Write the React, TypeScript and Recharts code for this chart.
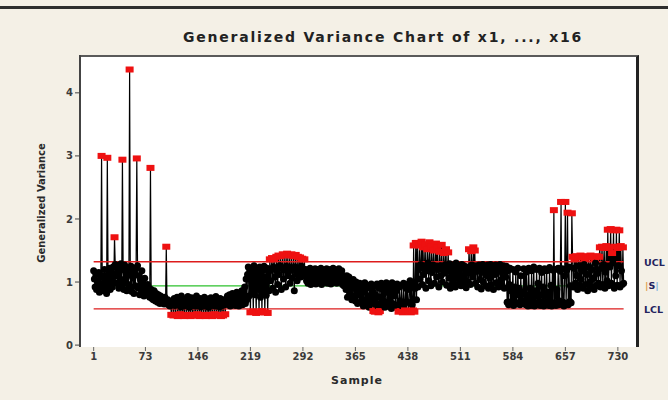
import React from 'react';
import { LineChart, Line, XAxis, YAxis } from 'recharts';

// generalized variance per sample in runs of samples
const gv001to030 = [1.18, 1.05, 0.92, 1.12, 0.88, 1.02, 0.95, 1.15, 0.84, 0.98, 1.08, 3.0, 0.9, 1.1, 0.86, 1.2, 0.94, 1.04, 0.82, 2.97, 1.12, 0.96, 1.22, 0.88, 1.06, 1.16, 0.92, 1.24, 1.0, 1.71];
const gv031to075 = [1.28, 1.1, 1.26, 0.98, 1.18, 0.9, 1.24, 1.05, 1.29, 0.95, 2.94, 1.2, 0.88, 1.27, 1.02, 1.15, 0.86, 1.22, 0.96, 1.12, 4.37, 0.92, 1.25, 0.85, 1.08, 1.19, 0.82, 1.14, 0.94, 1.22, 2.96, 1.26, 0.9, 1.1, 0.8, 1.04, 0.88, 1.18, 0.84, 0.98, 0.78, 1.06, 0.86, 0.92, 0.8];
const gv076to110 = [0.96, 0.82, 0.9, 0.76, 2.81, 0.88, 0.74, 0.84, 0.72, 0.86, 0.78, 0.7, 0.82, 0.74, 0.68, 0.8, 0.72, 0.66, 0.78, 0.7, 0.75, 0.67, 0.73, 0.65, 0.76, 0.69, 1.56, 0.66, 0.72, 0.64, 0.7, 0.62, 0.68, 0.48, 0.66];
const gv111to185 = [
  0.7, 0.47, 0.74, 0.63, 0.48, 0.68, 0.76, 0.46, 0.65, 0.72,
  0.49, 0.61, 0.78, 0.47, 0.67, 0.62, 0.46, 0.73, 0.64, 0.48,
  0.7, 0.77, 0.47, 0.6, 0.69, 0.46, 0.75, 0.63, 0.48, 0.66,
  0.71, 0.47, 0.62, 0.78, 0.49, 0.64, 0.68, 0.46, 0.74, 0.61,
  0.47, 0.7, 0.65, 0.48, 0.76, 0.62, 0.46, 0.69, 0.73, 0.47,
  0.6, 0.67, 0.48, 0.75, 0.63, 0.46, 0.71, 0.66, 0.49, 0.62,
  0.77, 0.47, 0.64, 0.7, 0.48, 0.61, 0.74, 0.46, 0.68, 0.63,
  0.47, 0.72, 0.65, 0.49, 0.7,
];
const gv186to215 = [0.66, 0.78, 0.64, 0.72, 0.8, 0.62, 0.75, 0.68, 0.82, 0.65, 0.73, 0.79, 0.63, 0.7, 0.84, 0.67, 0.76, 0.62, 0.81, 0.69, 0.74, 0.86, 0.64, 0.78, 0.7, 0.92, 0.66, 1.05, 0.72, 1.12];
const gv216to245 = [1.24, 0.78, 1.18, 0.52, 1.22, 0.84, 1.1, 0.53, 1.26, 0.8, 1.15, 0.51, 1.2, 0.88, 1.06, 0.52, 1.24, 0.76, 1.12, 0.54, 1.19, 0.82, 1.25, 0.52, 1.08, 0.79, 1.22, 0.51, 1.16, 0.86];
const gv246to295 = [
  1.36, 1.02, 1.2, 1.38, 0.9, 1.24, 1.37, 1.08, 0.84, 1.4,
  1.18, 0.96, 1.42, 1.12, 1.26, 1.41, 0.88, 1.22, 1.44, 1.05,
  1.19, 1.43, 0.92, 1.25, 1.45, 1.1, 1.16, 1.42, 0.98, 1.23,
  1.44, 1.06, 1.2, 1.41, 0.86, 1.24, 1.43, 1.12, 1.02, 1.4,
  1.18, 1.22, 1.39, 1.08, 1.25, 1.37, 1.14, 1.2, 1.36, 1.1,
];
const gv296to350 = [
  1.2, 1.02, 1.15, 0.98, 1.18, 1.06, 1.22, 0.96, 1.12, 1.19,
  1.0, 1.16, 1.08, 1.21, 0.97, 1.14, 1.04, 1.2, 0.99, 1.17,
  1.1, 1.22, 0.96, 1.13, 1.05, 1.19, 1.01, 1.16, 1.07, 1.21,
  0.98, 1.12, 1.18, 1.03, 1.2, 0.97, 1.15, 1.09, 1.22, 1.0,
  1.14, 1.06, 1.19, 0.98, 1.17, 1.04, 1.21, 1.02, 1.13, 1.08,
  1.18, 0.96, 1.1, 0.94, 1.05,
];
const gv351to450 = [
  1.05, 0.88, 1.1, 0.76, 0.98, 1.08, 0.82, 0.95, 1.02, 0.72, 0.9, 1.04, 0.78, 0.96, 0.7, 1.0, 0.85, 0.66, 0.94, 0.8,
  0.98, 0.68, 0.88, 0.74, 0.96, 0.62, 0.84, 0.99, 0.7, 0.9, 0.64, 0.95, 0.78, 0.6, 0.92, 0.72, 0.97, 0.66, 0.86, 0.54,
  0.94, 0.53, 0.8, 0.55, 0.97, 0.62, 0.52, 0.9, 0.54, 0.76, 0.98, 0.64, 0.88, 0.7, 0.95, 0.6, 0.84, 0.99, 0.68, 0.92,
  0.62, 0.96, 0.74, 0.88, 0.58, 0.99, 0.66, 0.9, 0.78, 0.96, 0.6, 0.86, 0.97, 0.64, 0.53, 0.92, 0.7, 0.54, 0.95, 0.62,
  0.52, 0.98, 0.66, 0.55, 0.9, 0.53, 0.96, 0.68, 0.54, 0.88, 1.02, 0.52, 0.94, 0.64, 0.55, 1.58, 0.53, 0.9, 1.62, 0.72,
];
const gv451to530 = [
  1.62, 0.92, 1.2, 1.58, 1.05, 1.28, 1.64, 0.96, 1.55, 1.12, 1.25, 1.6, 0.9, 1.18, 1.52, 1.3, 1.02, 1.63, 1.22, 0.94,
  1.57, 1.15, 1.27, 1.5, 0.98, 1.24, 1.61, 1.08, 1.54, 1.2, 0.92, 1.48, 1.26, 1.1, 1.59, 1.0, 1.22, 1.46, 1.14, 1.28,
  1.52, 0.95, 1.18, 1.47, 1.06, 1.29, 0.9, 1.24, 1.12, 0.98, 1.27, 1.04, 1.2, 0.92, 1.3, 1.08, 1.16, 0.96, 1.25, 1.02,
  1.22, 0.94, 1.28, 1.1, 0.99, 1.26, 1.05, 1.18, 0.91, 1.24, 1.14, 1.0, 1.52, 1.2, 0.96, 1.49, 1.27, 1.08, 1.55, 1.16,
];
const gv531to600 = [
  1.5, 0.98, 1.22, 1.26, 0.92, 1.18, 1.27, 1.04, 1.24, 0.89, 1.2, 1.28, 1.0, 1.15, 1.25, 0.94, 1.22, 1.1, 1.27, 0.9,
  1.24, 1.06, 1.28, 0.96, 1.19, 1.26, 0.88, 1.23, 1.12, 1.27, 0.99, 1.21, 1.25, 0.92, 1.17, 1.28, 1.03, 1.24, 0.95, 1.2, 1.26, 0.9, 1.22, 1.08, 1.25,
  0.68, 1.18, 0.64, 0.96, 1.22, 0.66, 0.86, 0.7, 1.2, 0.63, 0.92, 0.68, 1.16, 0.65, 0.8, 1.22, 0.67, 0.9, 0.64, 1.1, 0.69, 0.84, 0.66, 1.21, 0.7,
];
const gv601to665 = [
  1.2, 0.64, 1.16, 0.68, 0.62, 1.22, 0.66, 0.9, 0.63, 1.18, 0.7, 0.65, 1.24, 0.62, 0.86, 0.67, 1.2, 0.64, 0.98, 0.66,
  1.22, 0.63, 0.68, 1.15, 0.65, 0.92, 0.62, 1.21, 0.67, 0.64, 1.18, 0.69, 0.84, 0.63, 1.23, 0.66, 0.95, 0.62, 1.19, 0.65,
  2.14, 0.67, 1.2, 0.63, 0.88, 0.66, 1.22, 0.64, 0.7, 1.17, 2.27, 0.65, 1.21, 0.68, 0.62, 1.1, 2.27, 0.66, 1.19, 2.1, 0.64, 1.24, 0.69, 0.94, 0.67,
];
const gv666to738 = [
  2.09, 1.4, 0.92, 1.22, 1.38, 0.98, 1.41, 1.1, 0.88, 1.39, 1.26, 0.95, 1.42, 1.04, 1.18, 1.4, 0.9, 1.28, 1.38, 0.96,
  1.41, 1.12, 0.86, 1.39, 1.24, 1.0, 1.42, 0.92, 1.2, 1.4, 1.06, 0.88, 1.38, 1.3, 0.94, 1.41, 1.14, 0.98, 1.4, 1.55,
  0.92, 1.22, 1.56, 0.96, 1.28, 1.54, 0.9, 1.16, 1.57, 1.02, 1.83, 0.94, 1.55, 1.24, 1.84, 0.98, 1.46, 1.3, 1.82, 0.9,
  1.56, 1.1, 1.83, 0.95, 1.54, 1.26, 1.82, 0.92, 1.57, 1.18, 0.96, 1.55, 0.98,
];

const UCL = 1.322;
const CENTER = 0.938;
const LCL = 0.573;

const xTicks = [1, 73, 146, 219, 292, 365, 438, 511, 584, 657, 730];
const yTicks = [0, 1, 2, 3, 4];

const variance = [
  ...gv001to030, ...gv031to075, ...gv076to110, ...gv111to185, ...gv186to215,
  ...gv216to245, ...gv246to295, ...gv296to350, ...gv351to450, ...gv451to530,
  ...gv531to600, ...gv601to665, ...gv666to738,
];

const data = variance.map((v, i) => ({ sample: i + 1, gv: v, ucl: UCL, center: CENTER, lcl: LCL }));

const renderDot = (props: any) => {
  const { cx, cy, value, index } = props;
  if (cx == null || cy == null) return <g key={'d' + index} />;
  if (value > UCL || value < LCL) {
    return <rect key={'d' + index} x={cx - 4} y={cy - 3} width={8} height={6} fill="#ee1111" />;
  }
  return <circle key={'d' + index} cx={cx} cy={cy} r={3.5} fill="#000" />;
};

const tickStyle = { fontSize: 10, fontWeight: 700, fill: '#3a3a3a', fontFamily: 'DejaVu Sans' };

const App = () => {
  return (
    <div style={{ position: 'absolute', left: 0, top: 0, width: 668, height: 400, background: '#f4f0e6', overflow: 'hidden', fontFamily: 'DejaVu Sans' }}>
      <div style={{ position: 'absolute', left: 0, top: 6, width: 668, height: 3, background: '#2e2e2e' }} />
      <div style={{ position: 'absolute', left: 79, top: 55, width: 560, height: 292, background: '#fff', borderTop: '2px solid #5a5a5a', borderRight: '3px solid #222', boxSizing: 'border-box' }} />
      <div style={{ position: 'absolute', left: 0, top: 0 }}>
        <LineChart width={668} height={400} data={data} margin={{ top: 55, right: 30, left: 50, bottom: 23 }}>
          <XAxis
            type="number"
            dataKey="sample"
            domain={[-18, 758]}
            ticks={xTicks}
            allowDataOverflow
            axisLine={false}
            tickLine={{ stroke: '#666' }}
            tickSize={4}
            height={30}
            tick={tickStyle}
            interval={0}
          />
          <YAxis
            domain={[-0.03, 4.6]}
            ticks={yTicks}
            allowDataOverflow
            axisLine={{ stroke: '#444', strokeWidth: 2 }}
            tickLine={{ stroke: '#444' }}
            tickSize={5}
            width={30}
            tick={tickStyle}
            interval={0}
          />
          <Line dataKey="center" stroke="#2cc12c" strokeWidth={1.3} dot={false} isAnimationActive={false} />
          <Line dataKey="gv" stroke="#000" strokeWidth={1.2} dot={renderDot} isAnimationActive={false} />
          <Line dataKey="ucl" stroke="#dd1c1c" strokeWidth={1.3} dot={false} isAnimationActive={false} />
          <Line dataKey="lcl" stroke="#dd1c1c" strokeWidth={1.3} dot={false} isAnimationActive={false} />
        </LineChart>
      </div>
      <svg width={668} height={400} style={{ position: 'absolute', left: 0, top: 0, pointerEvents: 'none' }}>
        <text x={383} y={42} textAnchor="middle" fontSize={14} fontWeight={700} letterSpacing={1.8} fill="#222">
          Generalized Variance Chart of x1, ..., x16
        </text>
        <text x={0} y={0} transform="translate(45,203) rotate(-90)" textAnchor="middle" fontSize={10} fontWeight={700} fill="#2a2a2a">
          Generalized Variance
        </text>
        <text x={357} y={384} textAnchor="middle" fontSize={11} fontWeight={700} letterSpacing={1} fill="#2a2a2a">
          Sample
        </text>
        <text x={644} y={266} fontSize={9.5} fontWeight={700} fill="#23235e">UCL</text>
        <text x={645} y={289} fontSize={9.5} fontWeight={700} fill="#23235e">
          <tspan fill="#e0a050">|</tspan>S<tspan fill="#7fb3e0">|</tspan>
        </text>
        <text x={644} y={313} fontSize={9.5} fontWeight={700} fill="#23235e">LCL</text>
      </svg>
    </div>
  );
};

export default App;
